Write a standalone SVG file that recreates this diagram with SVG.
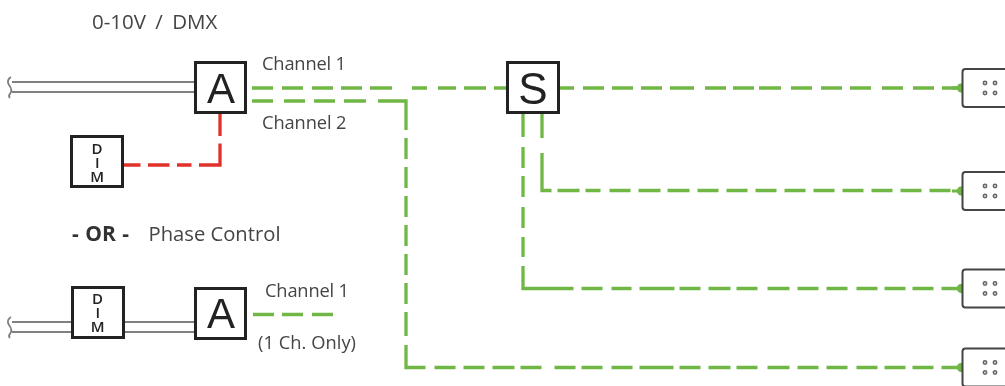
<svg xmlns="http://www.w3.org/2000/svg" width="1005" height="386" viewBox="0 0 1005 386">
<style>
text{font-family:"Open Sans","Noto Sans","Liberation Sans",sans-serif;fill:#444}
.lbl{font-size:18.3px}
.big{font-family:"Liberation Sans",sans-serif;font-size:42px;fill:#222;text-anchor:middle}
.dim{font-size:15px;font-weight:600;fill:#222;writing-mode:vertical-rl;text-orientation:upright;letter-spacing:-5.9px}
.box{fill:#fff;stroke:#222;stroke-width:3}
.g{fill:none;stroke:#6fb744;stroke-width:3.3}
.r{fill:none;stroke:#e03229;stroke-width:3.3}
.w{fill:none;stroke:#808080;stroke-width:1.8}
.end{fill:#fff;stroke:#444;stroke-width:2}
.dot{fill:#ddd;stroke:#666;stroke-width:1.5}
.tip{fill:#6fb744}
</style>
<defs>
<filter id="soft" filterUnits="userSpaceOnUse" x="0" y="0" width="1005" height="386"><feGaussianBlur stdDeviation="0.45"/></filter>
<g id="end">
<path class="tip" d="M952 -1.6L957 -1.6A4.6 4.6 0 1 1 957 1.6L952 1.6Z"/>
<rect class="end" x="962.5" y="-19" width="50" height="38" rx="3"/>
<circle class="dot" cx="985" cy="-5" r="1.7"/><circle class="dot" cx="995" cy="-5" r="1.7"/>
<circle class="dot" cx="985" cy="5" r="1.7"/><circle class="dot" cx="995" cy="5" r="1.7"/>
</g>
</defs>
<g filter="url(#soft)">
<g id="connectors">
<path class="w" d="M12 82H195M12 92H195"/>
<path class="w" d="M12 322H72M12 332H72M124 322H195M124 332H195"/>
<path class="w" d="M11 77Q6 80 9 85Q13 90 10 94Q8 96 10 98"/>
<path class="w" d="M11 317Q6 320 9 325Q13 330 10 334Q8 336 10 338"/>
<path class="r" stroke-dasharray="16.500 7.500 21.500 7.500 14.500 7.500 42.500 7.500 23" d="M124 165H220V113"/>
<path class="g" stroke-dasharray="21 9 21 9 21 8 21 8 22 20 15 11 18 8 22 8 13" d="M252 88H507"/>
<path class="g" stroke-dasharray="21 11 21 9 21 9 22 12 57 8 21 8 21 8 21 8 21 8 21 8 21 8 24 9 42 9 21 8 21 8 22 6 21 13 21 6 21 9 21 7 34 6 21 8 22 6 21 10 22 8 21 8 21 9 21 7 21 7 21 8 21" d="M252 101H406V367.5H963"/>
<path class="g" stroke-dasharray="15 9 21 8 21 8 21 8 24 11 21 7 21 5 22 10 21 9 21 8 21 11 21 10 21 8 18" d="M559 88H960"/>
<path class="g" stroke-dasharray="24 15 47 6 22 6 15 9 21 8 22 7 22 8 21 8 21 8 21 8 21 8 21 8 21 8 21 8 21 8 21 8 22" d="M542 114V190.5H963"/>
<path class="g" stroke-dasharray="23 10 21 8 21 10 21 9 20 9 73 8 21 9 20 8 35 5 21 8 22 6 21 10 22 8 21 8 21 9 21 7 21 7 21 8 21" d="M523 114V288.5H963"/>
<path class="g" stroke-dasharray="21 8 21 9 21" d="M253 314.5H333"/>
</g>
<g id="node-a1"><rect class="box" x="195.5" y="62.5" width="50" height="50"/><text class="big" x="221" y="103">A</text></g>
<g id="node-dim1"><rect class="box" x="71.5" y="136.5" width="51" height="50"/><text class="dim" x="97" y="137.500">DIM</text></g>
<g id="node-s"><rect class="box" x="507.5" y="62.5" width="51" height="50"/><text class="big" x="533" y="104" style="font-size:44px">S</text></g>
<g id="node-dim2"><rect class="box" x="72.5" y="287.5" width="51" height="50"/><text class="dim" x="97.500" y="287.500">DIM</text></g>
<g id="node-a2"><rect class="box" x="195.5" y="288.5" width="50" height="50"/><text class="big" x="221" y="328">A</text></g>
<g id="end-1"><use href="#end" y="88"/></g>
<g id="end-2"><use href="#end" y="191"/></g>
<g id="end-3"><use href="#end" y="288.5"/></g>
<g id="end-4"><use href="#end" y="367.5"/></g>
<g id="labels">
<text x="92" y="29" style="font-size:20.500px;word-spacing:4px">0-10V / DMX</text>
<text class="lbl" x="262" y="70" textLength="84">Channel 1</text>
<text class="lbl" x="262" y="128.500" textLength="84.500">Channel 2</text>
<text x="72" y="241" style="font-size:21px;font-weight:700;fill:#333;word-spacing:1px">- OR -</text>
<text x="148.500" y="241" style="font-size:20.200px" textLength="132">Phase Control</text>
<text class="lbl" x="265" y="297" textLength="84">Channel 1</text>
<text class="lbl" x="258" y="348.500" textLength="98">(1 Ch. Only)</text>
</g>
</g>
</svg>
